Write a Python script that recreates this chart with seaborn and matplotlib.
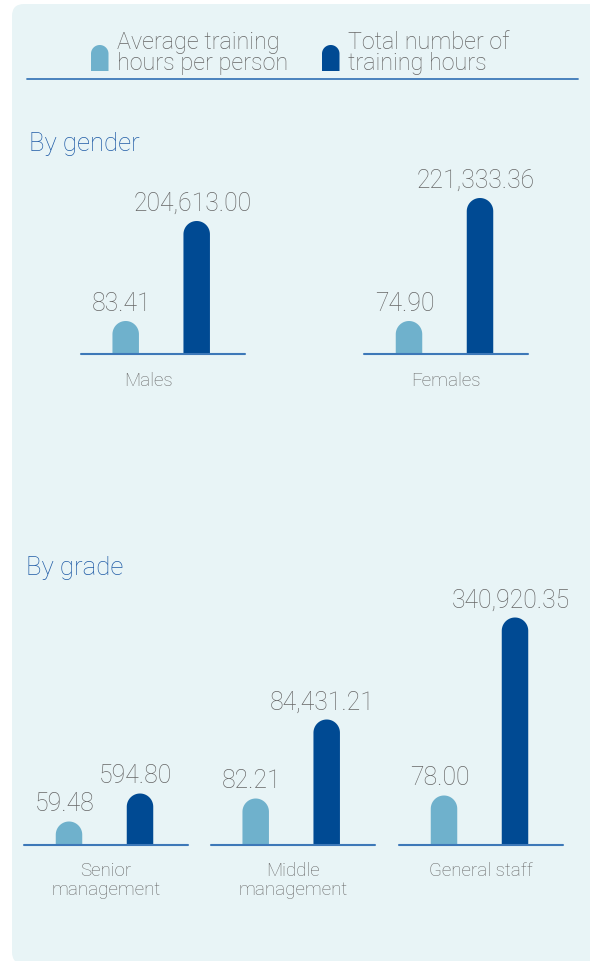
import numpy as np
import matplotlib
matplotlib.use("Agg")
import matplotlib.pyplot as plt
from matplotlib.patches import FancyBboxPatch, PathPatch
from matplotlib.path import Path
import pandas as pd
import seaborn as sns

# data
gender_groups = ["Males", "Females"]
gender_avg = [83.41, 74.90]
gender_total = [204613.00, 221333.36]
# bar heights as drawn in the picture (not to scale with the values)
gender_avg_drawn = [33, 33]
gender_total_drawn = [133, 156]

grade_groups = ["Senior\nmanagement", "Middle\nmanagement", "General staff"]
grade_avg = [59.48, 82.21, 78.00]
grade_total = [594.80, 84431.21, 340920.35]
grade_avg_drawn = [23, 46, 49]
grade_total_drawn = [51, 125, 227]

legend_labels = ["Average training\nhours per person", "Total number of\ntraining hours"]

LIGHT = "#6fb1cc"
DARK = "#004a93"
LINE = "#3d78b8"
GREY = "#666666"
HEAD = "#1f5ba6"
PANEL = "#e8f4f6"

W, H = 590, 962

sns.set_style("white")
plt.rcParams["font.family"] = ["Roboto", "DejaVu Sans"]
plt.rcParams["font.weight"] = "light"

fig = plt.figure(figsize=(W / 100, H / 100), dpi=100)
fig.patch.set_facecolor("white")

# background overlay in pixel coords
bg = fig.add_axes([0, 0, 1, 1])
bg.set_xlim(0, W)
bg.set_ylim(H, 0)
bg.axis("off")
bg.add_patch(FancyBboxPatch((12, 5), 600, 960, boxstyle="round,pad=0,rounding_size=12",
                            facecolor=PANEL, edgecolor="none"))


def cap_path(x0, w, y0, y1, ry):
    # rectangle with a half-ellipse on top (y1 = top edge)
    t = np.linspace(np.pi, 0, 40)
    cx, rx = x0 + w / 2, w / 2
    arc = np.column_stack([cx + rx * np.cos(t), y1 - ry + ry * np.sin(t)])
    verts = np.vstack([[x0, y0], [x0, y1 - ry], arc, [x0 + w, y1 - ry], [x0 + w, y0], [x0, y0]])
    return Path(verts, closed=True)


# legend
for x0, col, lab in [(91, LIGHT, legend_labels[0]), (322, DARK, legend_labels[1])]:
    bg.add_patch(PathPatch(cap_path(x0, 17.5, 72, 46, -8.75), facecolor=col, edgecolor="none"))
    bg.text(x0 + 26, 31, lab, fontsize=16.8, color=GREY, va="top", ha="left", linespacing=0.88)
bg.plot([27, 578], [79.5, 79.5], color=LINE, lw=1.3)

bg.text(29, 151, "By gender", fontsize=18.5, color=HEAD, va="baseline")
bg.text(26, 575, "By grade", fontsize=18.5, color=HEAD, va="baseline")


def round_tops(ax):
    px_y = ax.transData.transform((0, 1))[1] - ax.transData.transform((0, 0))[1]
    for bar in list(ax.patches):
        x0, w, h = bar.get_x(), bar.get_width(), bar.get_height()
        r_px = ax.transData.transform((w / 2, 0))[0] - ax.transData.transform((0, 0))[0]
        ry = r_px / px_y
        col = bar.get_facecolor()
        bar.remove()
        ax.add_patch(PathPatch(cap_path(x0, w, 0, h, ry), facecolor=col, edgecolor="none"))


def draw_group(left, baseline, name, avg, total, avg_h, total_h, name_dx=0):
    ax = fig.add_axes([left / W, (H - baseline) / H, 164 / W, 250 / H])
    ax.set_facecolor("none")
    df = pd.DataFrame({"kind": ["avg", "total"], "height": [avg_h, total_h]})
    sns.barplot(data=df, x="kind", y="height", hue="kind", palette=[LIGHT, DARK],
                width=0.373, saturation=1, legend=False, ax=ax)
    ax.set_xlim(-45 / 71, 1 + 48 / 71)
    ax.set_ylim(0, 250)
    ax.axis("off")
    round_tops(ax)
    ax.axhline(0, color=LINE, lw=1.5, clip_on=False)
    for i, (v, h) in enumerate([(avg, avg_h), (total, total_h)]):
        ax.annotate(f"{v:,.2f}", (i, h), xytext=(-3, 8), textcoords="offset points",
                    ha="center", va="baseline", fontsize=17.8, color=GREY, annotation_clip=False)
    ax.annotate(name, (0.5 + name_dx / 164, 0), xycoords="axes fraction", xytext=(0, -12),
                textcoords="offset points", ha="center", va="top", fontsize=13.5,
                color=GREY, linespacing=1.05, annotation_clip=False)
    return ax


gender_layout = [(80.7, 355, -14), (364, 355, 0)]
for (left, base, dx), name, a, t, ah, th in zip(gender_layout, gender_groups, gender_avg,
                                                gender_total, gender_avg_drawn, gender_total_drawn):
    draw_group(left, base, name, a, t, ah, th, dx)

grade_lefts = [24, 210.7, 399]
for left, name, a, t, ah, th in zip(grade_lefts, grade_groups, grade_avg, grade_total,
                                    grade_avg_drawn, grade_total_drawn):
    draw_group(left, 845.5, name, a, t, ah, th)

fig.savefig("out.png", dpi=100, facecolor="white")
